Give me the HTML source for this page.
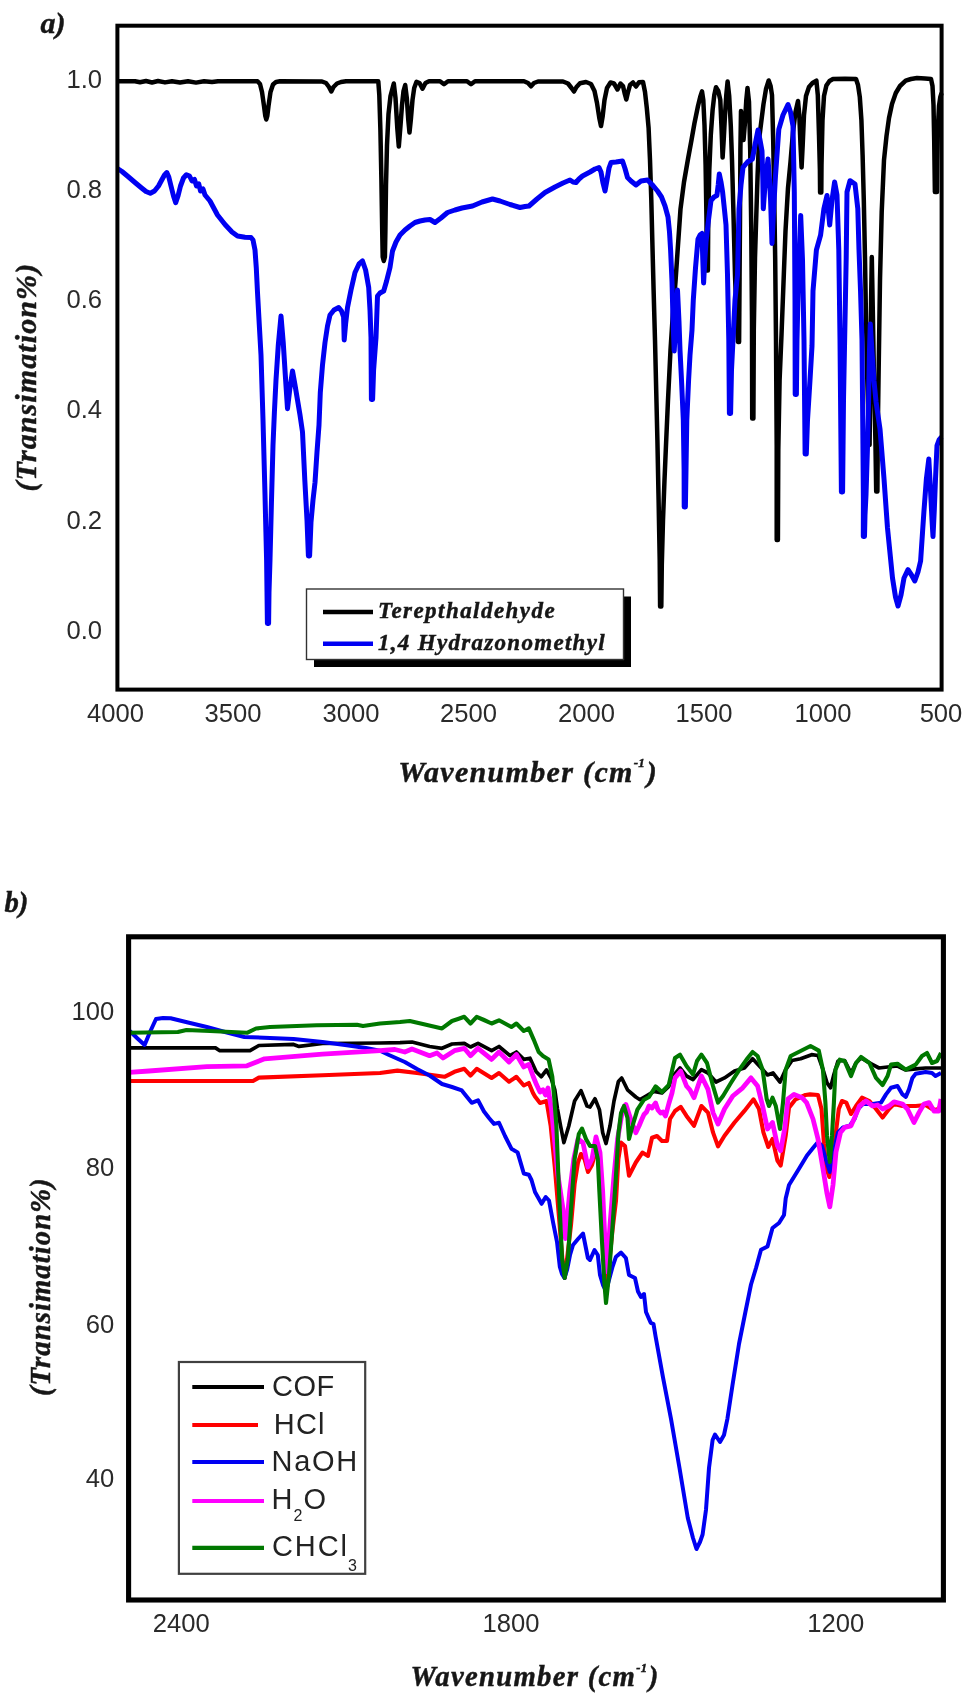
<!DOCTYPE html>
<html><head><meta charset="utf-8"><title>FTIR spectra</title>
<style>
html,body{margin:0;padding:0;background:#fff;}
svg{display:block;}
.tick{font-family:'Liberation Sans', Arial, sans-serif;font-size:25.6px;fill:#2b2b2b;}
.ttl{font-family:'Liberation Serif', 'Times New Roman', serif;font-weight:bold;font-style:italic;fill:#161616;stroke:#161616;stroke-width:0.45px;}
.leg{font-family:'Liberation Sans', Arial, sans-serif;fill:#222;}
polyline{fill:none;stroke-linejoin:round;stroke-linecap:butt;}
</style></head>
<body>
<svg width="968" height="1698" viewBox="0 0 968 1698">
<defs><filter id="soft" x="0" y="0" width="968" height="1698" filterUnits="userSpaceOnUse"><feGaussianBlur stdDeviation="0.55"/></filter></defs>
<rect x="0" y="0" width="968" height="1698" fill="#ffffff"/>
<g filter="url(#soft)">

<!-- ================= panel a ================= -->
<text class="ttl" x="40.5" y="33" font-size="30">a)</text>
<g class="tick" text-anchor="end">
<text x="102" y="87.8">1.0</text>
<text x="102" y="198">0.8</text>
<text x="102" y="308">0.6</text>
<text x="102" y="418">0.4</text>
<text x="102" y="528.5">0.2</text>
<text x="102" y="639.2">0.0</text>
</g>
<g class="tick" text-anchor="middle">
<text x="115.5" y="722">4000</text>
<text x="233" y="722">3500</text>
<text x="351" y="722">3000</text>
<text x="468.5" y="722">2500</text>
<text x="586.5" y="722">2000</text>
<text x="704" y="722">1500</text>
<text x="823" y="722">1000</text>
<text x="941" y="722">500</text>
</g>
<text class="ttl" x="398.2" y="781.6" font-size="30" letter-spacing="1.33">Wavenumber (cm<tspan font-size="13" dy="-14.5" letter-spacing="0.3">-1</tspan><tspan dy="14.5" dx="1.5">)</tspan></text>
<text class="ttl" transform="translate(36,491.5) rotate(-90)" font-size="30" letter-spacing="1.1">(Transimation%)</text>

<g id="plot-a">
<polyline stroke="#000000" stroke-width="4.5" points="117.5,81.3 135,81.3 140,82.3 146,81 152,82.5 158,81 165,82.4 172,81.2 180,82.5 188,81.2 196,82.6 204,81.3 212,82 218,81.3 257.5,81.3 260,84 262,92 264,106 265.3,116 266.3,119.5 267.3,116 268.5,106 270.5,92 273,84.5 276,82 280,81.3 322,81.5 326,83 329,87 331.3,91.5 333.5,87 337,83.5 341,82 346,81.3 378.3,81.3 379.3,95 380.4,130 381.4,180 382.2,230 382.7,257 383.8,261 384.9,257 385.4,230 386,185 387,145 388.5,114 390.5,96 393.8,83.5 395.5,98 397.3,128 398.8,146.5 400.3,128 402,105 403.5,91 405.2,85 406.8,98 408.3,120 409.5,132.5 410.8,120 412.5,100 414.2,88 416.5,81.8 419.5,83 422.5,88.7 425.5,83 429,81.3 440,81.3 444,84.2 448,81.3 467,81.3 471,84.2 475,81.3 524,81.3 528,83 531,86.3 534,83 538,81.5 563,81.5 568,83.5 571.5,88 574,91.5 576.5,87 580,83.3 586,82 591,84 594.5,91 597,103 599.3,118 601,126 602.7,116 604.5,100 607,88 610.5,82.5 614,83.5 617.5,89.5 620.5,83.5 623,86 624.8,94 626.3,99.5 627.8,93 630,85 633,82.5 636,86.5 639,82.3 643,82 645,92 646.8,108 648.6,128 650,160 651.3,200 652.3,240 653.6,290 655,340 656.2,390 657.4,440 658.6,500 659.7,560 660.1,606.5 661.3,606.5 661.8,565 663,520 664.5,480 666,445 668,400 670.5,350 673,312 675.5,281.5 678,245 680.5,209 684,182 688,159 691.5,140 694.5,123 698,106 700.2,97 702,91.4 703.3,100 704.5,125 705.6,165 706.5,220 706.7,270.5 707.9,270.5 708.2,225 709.3,170 710.8,135 712.6,110 714.3,95 716,87.3 718.3,91 720.3,100 721.6,130 722.6,157.5 723.7,140 725,115 726.3,95 727.6,81.5 729.2,96 730.8,126 732,160 733.5,215 735,275 736.5,315 737.9,342.0 739.1,342.0 739.4,300 740,220 740.4,150 741,111 742.3,122 743.5,140 745,122 746.3,100 747.5,88 749,102 750.2,150 751.2,225 752,320 752.2,418.5 753.4,418.5 753.8,330 755,258 756.3,215 757.6,175 759,140 761.5,120 763.5,104 766,89 768.7,80.5 770.6,86 772,95 773.2,140 774.2,195 775.2,260 776,340 776.7,445 776.7,540.0 777.9,540.0 778.3,450 779.6,380 781.5,335 783.8,275 785.5,231 788,188 790.5,162 793,132 795.5,112 798,101 799.3,115 800.5,145 801.6,167.5 802.7,145 804,115 806,96 809,87 812.5,83 816.4,80.7 817.8,95 819,135 819.9,170 820.1,192.5 821.3,192.5 821.5,165 822.5,120 824,96 826.4,85.5 829.5,81 833,79 845,78.8 856,79 858,85 859.8,97 861.4,120 862.6,155 863.8,200 865,258 866,320 867.3,380 868.4,420 869.6,445 870.4,370 871.1,300 871.8,257 872.8,310 874,380 875.4,440 876.2,491.5 877.4,491.5 877.8,430 878.8,360 880,280 881.7,212 884,160 886.5,136 889,118 892,104 895.8,93 900,86 905.7,80.7 911,79 917,78 925,78.5 931,79 932.5,86 933.5,105 934.2,140 934.9,192 937,192 937.3,160 937.9,128 939,106 940.3,97 941.6,93"/>
<polyline stroke="#0000f2" stroke-width="5.0" points="117.5,168.5 122,171.5 128,176.5 135,182.5 141,187.5 146,191.5 150.3,193.3 154.5,191 158.5,186 162,179.5 164.5,175 166.8,172.6 168.8,177 171,186 173.5,196 175.7,202.6 178,196 180.5,186 183.5,178 186.4,174.7 189.5,176 192,181 194.5,179.5 196.5,186 198.8,184 200.5,191 203,189 205,195 210,201 217.5,215 225,224.5 232,232 237.5,236 245,237.2 251,237.5 253,240 255,250 256.3,268 257.5,292.5 259.3,325 261,355 263,420 265,495 266.6,560 267.4,623.5 268.6,623.5 269,592 270,560 271.5,500 273,445 274.5,410 276,380 278.3,345 281,316 283.2,342 285.3,375 287.5,408.7 289.7,390 292.5,371 295,385 297.5,400 300,415 302.5,432 304.8,480 307,520 308.4,556.0 309.6,556.0 311,522 313,500 315,482.5 317,452 319,425 320.3,392.5 322.5,365 325,342.5 327.5,326 330,315 334,310 338.7,307.5 341.5,311 343.6,317 344.2,340 345.6,324 347.5,307.5 351,290 355,272.5 359,264 362.5,261 365.6,270 368.7,287.5 370,310 371,337.5 371.4,399.5 372.6,399.5 373.6,370 376,337.5 377.5,296 380,293 383.7,291 386.6,281 390,267.5 392.5,251 396,242 400,235 405,230 410,226 415,222.5 420,221 425,220 430,219.5 435,222.5 441,218 447.5,212.5 455,210 462,208 472.5,206 482,202 492.5,199 500,201 510,204.5 520,207.5 525,206.5 529,206 537,199 545,192.5 555,187 563,183 570,180 573,182 576,182.5 579,179 582.5,176 590,172 595,169 599,167.5 601,172 603,183 605,191 607,180 609,168 611,162.5 616,162 622.5,161 625,168.5 627.5,177.5 631,181 636,185 641,181 647.5,180 653,185.6 657.5,191 661.5,197 665,206 668,217 669.5,232 670.6,250 672,281.5 673,320 674.2,351 676,320 677.5,290 679,322 680,350 681.5,380 683.3,420 684.1,470 684.2,507.0 685.4,507.0 686,470 686.8,420 688.6,380 690,355 692,330 693.3,300 695.5,268 698,239 700,235 702,233.5 702.8,260 703.6,283 704.8,260 706,242 708.5,220 711,200.5 714,197 716.9,195.5 718.2,185 719.3,174 721,182 722.6,192 724.5,210 726,225 727.5,275 728.8,340 729.4,413.5 730.6,413.5 731.5,370 733,340 735,300 737.5,275 739,209 741,185 743,167.4 747.5,162 752.4,159 755,145 758,130 760,140 762,151 762.8,180 763.3,208.8 765,185 768,159 769.5,180 770.6,200.5 772,243.5 773.6,210 775.5,175.7 778.8,129.4 783,115 788,104.6 790.5,112 793,126 794.3,192 795,300 795.2,394.5 796.4,394.5 797,340 798.5,275 800.7,215.4 802.5,260 804,340 805.1,454.1 806.3,454.1 807.5,420 810,380 812,346 813,291 816.4,250 820.6,235 823.9,208.8 827,195.5 829.7,225 832,200 834.6,182 837,195 838.8,250 840,340 841.4,492.1 842.6,492.1 843.5,400 845.4,300 846.2,258 847,192 850,180.7 855,184 857.8,208.8 859,250 860.5,290 862,340 862.8,429 863.4,500 863.3,536.5 864.5,536.5 865,515 866,495 867.4,450 868.6,400 869.5,350 870.3,324 872,352 874,381 876,401.6 880,429 884,478.8 887.5,528 892.5,578 895.5,597 898,606 901,595 904,578 908,569.7 911.5,575 914.8,581 918,572 920.6,561 923.9,511.8 926.4,478.8 928.8,459 930.5,490 932,520 933,536.6 934.3,510 935.5,478.8 937,445.7 939,440 941.6,437"/>
<rect x="117.4" y="25.7" width="824.2" height="663.9" fill="none" stroke="#000" stroke-width="4"/>
</g>

<!-- legend a -->
<g id="legend-a">
<rect x="314" y="596.5" width="317" height="70.5" fill="#000"/>
<rect x="306.5" y="589" width="317" height="70.5" fill="#fff" stroke="#333" stroke-width="1.4"/>
<line x1="323" y1="612" x2="373" y2="612" stroke="#000" stroke-width="4.6"/>
<line x1="323" y1="643.8" x2="373" y2="643.8" stroke="#0000f2" stroke-width="4.6"/>
<text class="ttl" x="378" y="618" font-size="23" letter-spacing="1.45">Terepthaldehyde</text>
<text class="ttl" x="378" y="650" font-size="23" letter-spacing="1.3">1,4 Hydrazonomethyl</text>
</g>

<!-- ================= panel b ================= -->
<text class="ttl" x="4.5" y="912" font-size="28.7">b)</text>
<g class="tick" text-anchor="end">
<text x="114.3" y="1019.7">100</text>
<text x="114.3" y="1175.5">80</text>
<text x="114.3" y="1332.5">60</text>
<text x="114.3" y="1487">40</text>
</g>
<g class="tick" text-anchor="middle">
<text x="181.3" y="1632">2400</text>
<text x="511" y="1632">1800</text>
<text x="835.7" y="1632">1200</text>
</g>
<text class="ttl" x="410.6" y="1686" font-size="28.7" letter-spacing="1.3">Wavenumber (cm<tspan font-size="12.5" dy="-14" letter-spacing="0.3">-1</tspan><tspan dy="14" dx="1.5">)</tspan></text>
<text class="ttl" transform="translate(49.5,1396) rotate(-90)" font-size="28.7" letter-spacing="1.05">(Transimation%)</text>

<g id="plot-b">
<polyline stroke="#000000" stroke-width="3.7" points="129.25,1047.9 215.5,1047.9 219.8,1050.7 250,1050.7 258.9,1045.5 293.6,1044.4 299,1046.4 322.5,1043.5 380,1043 400,1042.6 412,1042 429.6,1046.5 442,1048.3 452,1044 464.3,1043.3 470.5,1047 478,1043.3 491.6,1050.7 499,1046.5 510,1055.7 516.4,1052 523.8,1059.4 530,1058.2 536.2,1071.8 541.2,1076.8 546.5,1070 551,1078 554.8,1089.8 557.5,1109 560.6,1126 563.9,1142.6 568.8,1126 574.6,1101 581,1090.6 587,1106 590,1107 595,1098.8 599.4,1109.6 602.7,1132.7 606,1143.5 610,1126 614,1101 618.4,1081.5 621.7,1078 627.5,1089.8 635.8,1097 640,1099.7 645.7,1096.4 654,1091.4 662,1093 668.8,1086.4 673,1076 680,1068 686.5,1076 693,1079.5 701.4,1069.6 708,1073 716,1082 724.5,1077.9 734.5,1071 744.4,1068 752.6,1058.8 762.6,1069.6 767.5,1075 773,1073 780,1082 785.7,1069.6 792,1060.5 800.6,1058.8 811.6,1054.7 818,1055.5 823,1069.6 827,1082.8 830.6,1087.8 833.9,1074.5 838,1061 844.6,1060.5 851,1073 856,1063 861,1058 872.7,1064.6 879,1068 887.6,1067 897.5,1066 905.8,1070 915.7,1068.8 925.6,1068 941,1068"/>
<polyline stroke="#ff0000" stroke-width="4.1" points="129.25,1081 253,1081 258.9,1077.6 322.5,1075.3 380,1073 397.4,1070.6 417,1073 444.5,1076.8 454.4,1071.8 464.3,1068.8 470.5,1075.5 476.7,1068.8 491.6,1078 499,1073 509,1081.7 516.4,1076.8 523.8,1085.5 528.8,1083 533,1093 535,1096.6 540,1103 546.5,1101 550.7,1126 554.8,1167 559,1217 563,1266.6 564.7,1278 567.5,1255 571,1225 574.6,1184 578,1162.5 581,1154 584.5,1159 588,1172 592,1165 596,1150 599.5,1165 602,1210 604.5,1260 606,1291 609.5,1260 612.5,1230 616,1200.5 618.4,1159 621,1142.6 625,1146 629,1175.7 635.8,1162.5 642.4,1152.6 648,1155.9 652,1137.7 657,1136 662,1141 667,1141 670,1119 675,1111 680.7,1106.8 686.5,1115.9 694,1125.8 701.4,1106 708,1112.6 713,1132.4 718,1146.4 724.5,1135.7 734.5,1122.5 744.4,1110.9 753.5,1099.3 759,1109 763.4,1132.4 768.3,1147 772.5,1139 777.4,1160.5 780.7,1165.5 785.7,1135.7 789,1107.6 795.6,1099.3 805.5,1095 810,1094.4 818,1095 821.5,1109 824,1144 826.4,1168.8 829.4,1177 832.5,1160 835.5,1135.7 838.8,1109 842,1101 846.3,1102.6 851,1114 856,1106 862,1097.7 869.4,1101 876,1109 882.6,1117.5 889,1109 894,1104 902.5,1106 915.7,1106 925.6,1105 932,1109 937,1110 941,1106"/>
<polyline stroke="#0000f2" stroke-width="4.0" points="129.25,1030.5 137,1038 144.6,1045 150,1032 156,1019 163,1018 170.6,1018.3 188,1022.5 206.8,1027 225,1032 244.4,1037 270,1038 293.6,1039 322.5,1042 345,1045 365.9,1047.9 380,1050.7 389,1055 404.8,1062 417,1069 429.6,1075.5 442,1084 452,1087 461.8,1090.4 467,1097 471.7,1102.8 478,1100.3 484,1111.5 489,1118 494,1123.9 499,1122.7 505,1136 511.4,1148.7 517.6,1152.4 523.8,1173.5 528.8,1174.7 531.5,1180 535,1192 541.6,1203.8 545.7,1197 549,1200.5 553,1222 557,1241.8 559.8,1266.6 562,1274 564.5,1278 567,1270 570,1255 573,1245 578,1239 583,1233.5 587.9,1258 590,1260 594.5,1250 597.8,1255 600,1275 603,1285 606,1291 609,1280 612.6,1266.6 616,1256.7 621,1252.6 625.9,1258 629,1275 635,1278 638,1291.5 641,1297 644,1294 646,1312 650.7,1322.8 653.5,1324 655.5,1336 663,1377.4 671,1418.8 679.5,1468 687.8,1518 693,1538 696.5,1549 700,1542 702.6,1534.5 706,1509.7 709,1468 712.6,1440 715,1434.5 720,1442 724,1435 727.4,1418.8 732.4,1385.7 739,1344 745.6,1311 751,1284.5 756,1268 761,1249.8 767.5,1246.4 772.5,1228 779,1223 784,1215 785.7,1198.5 789,1185 799,1168.8 807,1155.5 813,1148 818,1142 822,1146 826,1160 829.8,1172 833,1155 838,1132.4 843,1127.4 849.6,1125.8 854.5,1119 857.9,1109 862.8,1104 872.7,1104 881,1102.6 886,1094.4 891,1087.8 897.5,1086 902.5,1094.4 905.8,1096.9 909,1089.4 912.4,1077.9 915.7,1073.7 925.6,1072 932,1072.9 935.5,1076 941,1072.9"/>
<polyline stroke="#ff00ff" stroke-width="4.8" points="129.25,1072.4 149,1071 206.8,1066.7 247,1065.8 264.6,1058.8 322.5,1054.2 380,1050.7 394.9,1049.5 404.8,1052 412,1049 429.6,1055.7 437,1053 443,1058 454.4,1050.7 464.3,1048.3 470.5,1055.7 478,1048.3 491.6,1059.4 499,1052 509,1062 516.4,1054.5 523.8,1066.9 528.8,1064.4 533,1076 536.6,1084.8 540,1092 543,1089.8 545.5,1095 548,1088 551.5,1109.6 554.8,1142.6 558,1175.7 563,1208.8 565.5,1238.5 569.7,1192 573.8,1159 578,1139 583,1142.6 587.9,1167 592,1159 596,1136.9 600,1152.6 602.7,1192 605,1241.8 606.9,1271.6 610,1225 614,1175.7 617.6,1139 622.6,1109.6 625.9,1104.6 631,1120 635.8,1132.7 639,1126 641.5,1120 644,1114.5 646.5,1112 649,1106 652,1108 655.6,1103 658,1110 660.6,1113 663,1112 665.5,1116 669,1103 672,1093 675,1077.9 680.7,1071 686.5,1086 690,1090 694,1097.7 701.4,1076 708,1089.4 713,1112.6 718,1124 724.5,1109 732.8,1096 742.7,1087.8 751,1077.9 757.6,1086 762.6,1106 767.5,1129 772.5,1122.5 777.4,1145.6 780.7,1150.6 784.9,1127.4 788,1099 794,1094.4 802,1097.7 806.6,1102.6 813,1119 818,1139 823,1168.8 827,1193.6 829.8,1206.8 833,1185 836,1152 840.5,1132.4 844.6,1127.4 851,1125.8 855.4,1115.9 859.5,1106 866,1101 872.7,1106 877.7,1105 882.6,1109 889,1106 894,1101.8 902.5,1104 907.4,1109 914,1122.5 919,1112.6 924,1104 929,1102.6 934,1111 938.8,1111 941,1099"/>
<polyline stroke="#007800" stroke-width="4.1" points="129.25,1032.8 177.9,1032 186.5,1030 210,1031 247,1032.8 256,1028.5 270,1027 316.7,1025.3 357,1024.7 363,1026 380,1023.5 400,1022 409.8,1021 425,1024.5 442,1028.4 452,1021 458,1019 464.3,1016.8 470.5,1023.5 476.7,1016.8 484,1020 491.6,1023.5 499,1020.3 505,1023.5 511.4,1027 516.4,1023.5 523.8,1031 528.8,1028.4 533.7,1039.6 538.7,1052 543,1056 548.6,1059.4 552.3,1076.8 554,1095 556.4,1126 559,1192 562,1258 564.7,1278 568,1258 571,1208.8 574.6,1159 578.8,1134 582,1128.6 586,1139 590,1146 595,1146 597.8,1159 599.4,1192 602,1241.8 604.4,1283 606,1303 609,1275 612.6,1225 616,1175.7 618.4,1134 621,1113 624,1106 627.5,1118 629,1139 632.5,1126 637.4,1109.6 644,1099.7 649,1097 655.6,1086.4 662,1092 668.8,1084.8 671.5,1073 675,1058 680,1054.7 686.5,1066 693,1074.5 697,1061 701.4,1054.7 707,1063 713,1086 718,1102.6 723,1096 731,1082.8 739.4,1069.6 747.7,1058 752.6,1052 757.6,1056 762.6,1069.6 766.7,1099 769,1106 772.5,1097.7 775.8,1106 780,1129 783,1102.6 785.7,1069.6 790.7,1056 800.6,1051 810.5,1046 818.8,1050.6 822.9,1069.6 825.4,1102.6 827,1135.7 829.8,1162 832,1135.7 833.9,1102.6 835.5,1069.6 839.7,1059.7 844.6,1061 851,1076 856,1063 861,1057 869.4,1063 876,1077.9 882.6,1085 887.6,1076 891,1064.6 897.5,1063.8 905.8,1069.6 915.7,1064.6 922,1056 927,1053 932,1063 937,1061 941,1053"/>
<rect x="128.6" y="936.8" width="814.8" height="663.2" fill="none" stroke="#000" stroke-width="5.1"/>
</g>

<!-- legend b -->
<g id="legend-b">
<rect x="178.9" y="1362" width="186.3" height="211.8" fill="#fff" stroke="#404040" stroke-width="2.2"/>
<line x1="192.3" y1="1387" x2="264" y2="1387" stroke="#000" stroke-width="4.2"/>
<line x1="192.3" y1="1425" x2="258" y2="1425" stroke="#ff0000" stroke-width="4.2"/>
<line x1="192.3" y1="1462" x2="264" y2="1462" stroke="#0000f2" stroke-width="4.2"/>
<line x1="192.3" y1="1501" x2="264" y2="1501" stroke="#ff00ff" stroke-width="4.2"/>
<line x1="192.3" y1="1547.8" x2="264" y2="1547.8" stroke="#007800" stroke-width="4.2"/>
<g class="leg" font-size="29">
<text x="272" y="1396" letter-spacing="0.5">COF</text>
<text x="273.8" y="1434" letter-spacing="1.2">HCl</text>
<text x="271.6" y="1471" letter-spacing="1.7">NaOH</text>
<text x="271.6" y="1509.2" letter-spacing="1">H<tspan font-size="16" dy="11.5">2</tspan><tspan dy="-11.5">O</tspan></text>
<text x="272" y="1556" letter-spacing="1.9">CHCl<tspan font-size="16" dy="14.5" dx="-1">3</tspan></text>
</g>
</g>
</g>
</svg>
</body></html>
